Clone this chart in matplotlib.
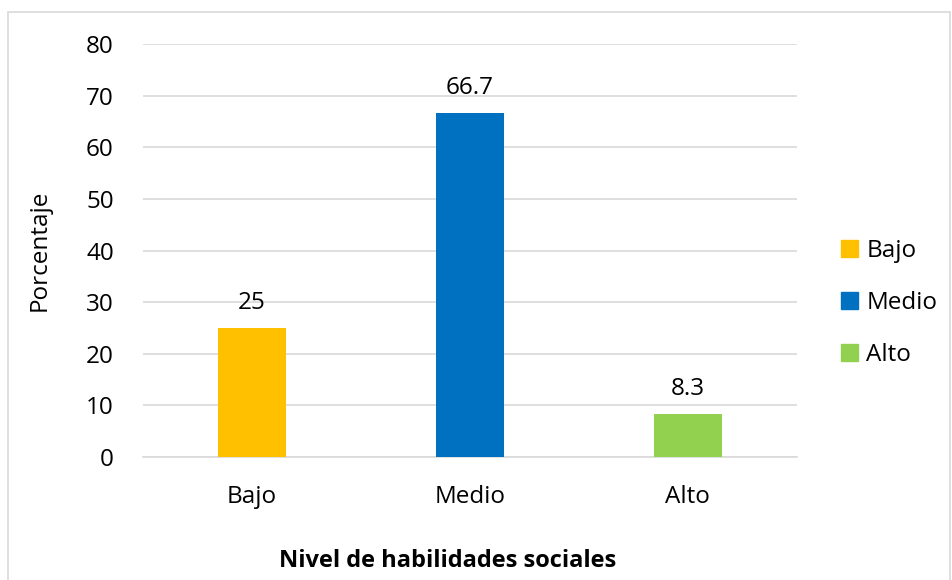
import numpy as np
import matplotlib.pyplot as plt
from matplotlib.patches import Rectangle, Patch

plt.rcParams['font.family'] = ['Open Sans', 'DejaVu Sans']

niveles = ["Bajo", "Medio", "Alto"]
porcentajes = [25, 66.7, 8.3]
etiquetas = ["25", "66.7", "8.3"]
colores = ["#FFC000", "#0070C0", "#92D050"]

fig = plt.figure(figsize=(9.53, 5.80), dpi=100)
# chart border
fig.patches.append(Rectangle((0.008, -0.01), 0.989, 0.99, transform=fig.transFigure,
                             fill=False, edgecolor="#D9D9D9", linewidth=1.2))

ax = fig.add_axes([0.150, 0.212, 0.686, 0.712])
x = np.arange(len(niveles))
bars = ax.bar(x, porcentajes, width=0.31, color=colores, zorder=3)

for b, t in zip(bars, etiquetas):
    ax.annotate(t, (b.get_x() + b.get_width() / 2, b.get_height()),
                xytext=(0, 9.5), textcoords="offset points",
                ha="center", va="bottom", fontsize=17.5)

ax.set_xlim(-0.5, 2.5)
ax.set_ylim(0, 80)
ax.set_yticks(range(0, 81, 10))
ax.set_xticks(x)
ax.set_xticklabels(niveles)
ax.tick_params(axis="both", length=0, labelsize=17.5)
ax.tick_params(axis="x", pad=20)
ax.tick_params(axis="y", pad=21)
ax.yaxis.grid(True, color="#D9D9D9", linewidth=1.2, zorder=0)
for s in ["top", "right", "left"]:
    ax.spines[s].set_visible(False)
ax.spines["bottom"].set_color("#D9D9D9")
ax.spines["bottom"].set_linewidth(1.2)

ax.set_ylabel("Porcentaje", fontsize=17.5, labelpad=25)
fig.text(0.470, 0.032, "Nivel de habilidades sociales", ha="center", va="center",
         fontsize=17, fontweight="bold")

handles = [Patch(color=c) for c in colores]
fig.legend(handles, niveles, loc="center left", bbox_to_anchor=(0.872, 0.478),
           frameon=False, fontsize=17.5, handlelength=0.7, handleheight=0.7,
           handletextpad=0.35, labelspacing=1.15, borderaxespad=0)

fig.savefig("out.png", dpi=100)
